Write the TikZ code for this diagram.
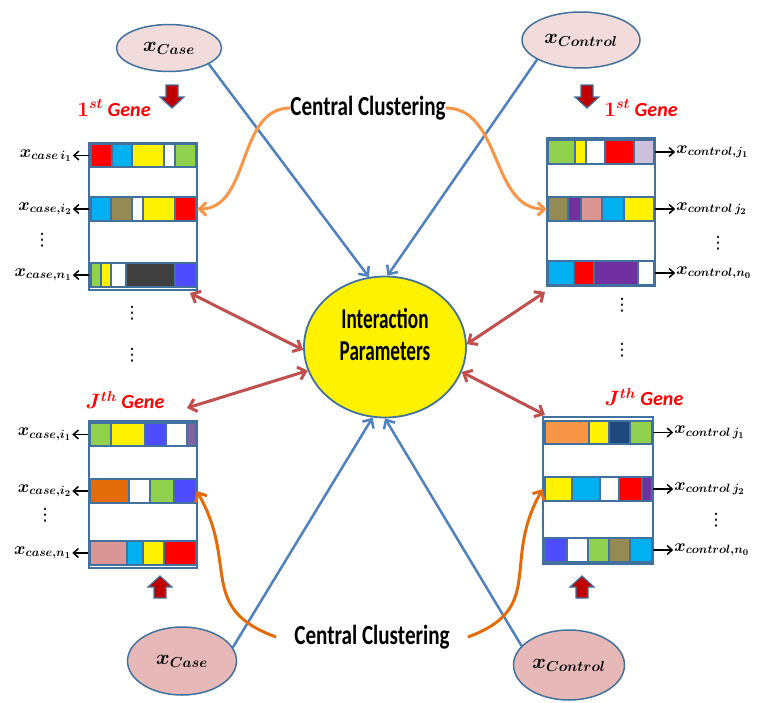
\documentclass[tikz,border=0pt]{standalone}
\usepackage{fontspec}
\setmainfont{Carlito}
\newfontfamily\dejavu{DejaVu Sans}
\usepackage{amsmath}
\usetikzlibrary{positioning,shapes.geometric,arrows.meta}

\definecolor{boxblue}{RGB}{65,113,156}
\definecolor{lineblue}{RGB}{79,129,189}
\definecolor{arrred}{RGB}{192,80,77}
\definecolor{lightorange}{RGB}{247,150,70}
\definecolor{darkorange}{RGB}{227,108,9}
\definecolor{palepink}{RGB}{242,220,219}
\definecolor{rosepink}{RGB}{230,185,184}
\definecolor{cyanc}{RGB}{0,176,240}
\definecolor{greenc}{RGB}{146,208,80}
\definecolor{olivec}{RGB}{148,138,84}
\definecolor{bluec}{RGB}{77,77,255}
\definecolor{purplec}{RGB}{112,48,160}
\definecolor{pinkc}{RGB}{217,150,148}
\definecolor{lavc}{RGB}{204,192,218}
\definecolor{navyc}{RGB}{31,73,125}
\definecolor{grayc}{RGB}{64,64,64}
\definecolor{mauvec}{RGB}{128,100,162}
\definecolor{darkredc}{RGB}{192,0,0}

\tikzset{
  >={Straight Barb[length=7pt,width=13pt]},
  sample/.style={ellipse, draw=boxblue, line width=1.5pt, inner sep=0pt, font=\fontsize{20}{24}\selectfont\boldmath},
  genebox/.style={draw=boxblue, line width=2pt, fill=white, inner sep=0pt, minimum width=108pt, minimum height=147pt},
  rowbox/.style={inner sep=0pt, minimum width=108pt, minimum height=24pt},
  cell/.style={draw=boxblue, line width=1.2pt},
  lab/.style={inner sep=1pt, font=\fontsize{18.5}{22}\selectfont\boldmath},
  dots/.style={inner sep=0pt, font=\dejavu\fontsize{17}{18}\selectfont},
  genetitle/.style={text=red, inner sep=0pt, font=\fontsize{20}{22}\selectfont\bfseries\itshape\boldmath},
  cluster/.style={inner sep=0pt, font=\fontsize{24}{28}\selectfont\bfseries},
  blueln/.style={draw=lineblue, line width=2.5pt, ->},
  redln/.style={draw=arrred, line width=3pt, <->},
  orangeln/.style={line width=3pt, ->},
  sidearr/.style={draw=black, line width=1.5pt, ->, >={Straight Barb[length=5pt,width=9pt]}},
  bigarr/.style={draw=boxblue, line width=1.2pt, fill=darkredc},
}

\begin{document}
\begin{tikzpicture}[x=1pt,y=-1pt]
  \useasboundingbox (0,0) rectangle (763,702);

  % the four samples and the centre
  \node[sample, fill=palepink, minimum width=105pt, minimum height=47pt] (caseT) at (169,48) {$x_{Case}$};
  \node[sample, fill=palepink, minimum width=118pt, minimum height=56pt] (ctrlT) at (581,40) {$x_{Control}$};
  \node[sample, fill=rosepink, minimum width=109pt, minimum height=68pt] (caseB) at (182,661) {$x_{Case}$};
  \node[sample, fill=rosepink, minimum width=111pt, minimum height=70pt] (ctrlB) at (569,665) {$x_{Control}$};

  \node[ellipse, draw=boxblue, line width=1.8pt, fill=yellow, minimum width=162pt, minimum height=141pt] (ip) at (385,347) {};
  \node[cluster, align=center] (ipt) at (385,334) {\scalebox{0.8}[1.2]{Interaction}\\[4pt]\scalebox{0.8}[1.2]{Parameters}};

  % blue lines into the centre
  \draw[blueln] (caseT.-22) -- (ip.103);
  \draw[blueln] (ctrlT.204) -- (ip.88);
  \draw[blueln] (caseB.15) -- (ip.260);
  \draw[blueln] (ctrlB.158) -- (ip.270);

  % gene boxes
  \node[genebox] (gTL) at (143,216.5) {};
  \node[genebox, minimum height=148pt] (gTR) at (601,212) {};
  \node[genebox] (gBL) at (142.5,494.5) {};
  \node[genebox, minimum width=110pt] (gBR) at (598,490.5) {};

  % 1st gene, case
  \filldraw[cell, fill=red] (91,144) rectangle (112,167); \filldraw[cell, fill=cyanc] (112,144) rectangle (132,167); \filldraw[cell, fill=yellow] (132,144) rectangle (164,167); \filldraw[cell, fill=white] (164,144) rectangle (175,167); \filldraw[cell, fill=greenc] (175,144) rectangle (196,167);
  \filldraw[cell, fill=cyanc] (91,197) rectangle (111,221); \filldraw[cell, fill=olivec] (111,197) rectangle (132,221); \filldraw[cell, fill=white] (132,197) rectangle (143,221); \filldraw[cell, fill=yellow] (143,197) rectangle (175,221); \filldraw[cell, fill=red] (175,197) rectangle (196,221);
  \filldraw[cell, fill=greenc] (91,263) rectangle (101,287); \filldraw[cell, fill=yellow] (101,263) rectangle (111,287); \filldraw[cell, fill=white] (111,263) rectangle (126,287); \filldraw[cell, fill=grayc] (126,263) rectangle (175,287); \filldraw[cell, fill=bluec] (175,263) rectangle (196,287);

  % 1st gene, control
  \filldraw[cell, fill=greenc] (548,140) rectangle (575,164); \filldraw[cell, fill=yellow] (575,140) rectangle (586,164); \filldraw[cell, fill=white] (586,140) rectangle (605,164); \filldraw[cell, fill=red] (605,140) rectangle (634,164); \filldraw[cell, fill=lavc] (634,140) rectangle (654,164);
  \filldraw[cell, fill=olivec] (548,197) rectangle (568,221); \filldraw[cell, fill=purplec] (568,197) rectangle (581,221); \filldraw[cell, fill=pinkc] (581,197) rectangle (602,221); \filldraw[cell, fill=cyanc] (602,197) rectangle (624,221); \filldraw[cell, fill=yellow] (624,197) rectangle (654,221);
  \filldraw[cell, fill=cyanc] (548,261) rectangle (574,285); \filldraw[cell, fill=red] (574,261) rectangle (594,285); \filldraw[cell, fill=purplec] (594,261) rectangle (638,285); \filldraw[cell, fill=white] (638,261) rectangle (654,285);

  % Jth gene, case
  \filldraw[cell, fill=greenc] (90,423) rectangle (111,446); \filldraw[cell, fill=yellow] (111,423) rectangle (145,446); \filldraw[cell, fill=bluec] (145,423) rectangle (166,446); \filldraw[cell, fill=white] (166,423) rectangle (187,446); \filldraw[cell, fill=mauvec] (187,423) rectangle (196,446);
  \filldraw[cell, fill=darkorange] (90,479) rectangle (129,503); \filldraw[cell, fill=white] (129,479) rectangle (150,503); \filldraw[cell, fill=greenc] (150,479) rectangle (174,503); \filldraw[cell, fill=bluec] (174,479) rectangle (196,503);
  \filldraw[cell, fill=pinkc] (90,541) rectangle (127,565); \filldraw[cell, fill=cyanc] (127,541) rectangle (143,565); \filldraw[cell, fill=yellow] (143,541) rectangle (164,565); \filldraw[cell, fill=red] (164,541) rectangle (196,565);

  % Jth gene, control
  \filldraw[cell, fill=lightorange] (545,421) rectangle (589,444); \filldraw[cell, fill=yellow] (589,421) rectangle (609,444); \filldraw[cell, fill=navyc] (609,421) rectangle (630,444); \filldraw[cell, fill=greenc] (630,421) rectangle (652,444);
  \filldraw[cell, fill=yellow] (545,477) rectangle (572,501); \filldraw[cell, fill=cyanc] (572,477) rectangle (600,501); \filldraw[cell, fill=white] (600,477) rectangle (619,501); \filldraw[cell, fill=red] (619,477) rectangle (642,501); \filldraw[cell, fill=purplec] (642,477) rectangle (652,501);
  \filldraw[cell, fill=bluec] (545,538) rectangle (567,562); \filldraw[cell, fill=white] (567,538) rectangle (588,562); \filldraw[cell, fill=greenc] (588,538) rectangle (609,562); \filldraw[cell, fill=olivec] (609,538) rectangle (630,562); \filldraw[cell, fill=cyanc] (630,538) rectangle (652,562);

  % rows
  \node[rowbox] (tlA) at (143,155.5) {};
  \node[rowbox] (tlB) at (143,209) {};
  \node[rowbox] (tlC) at (143,275) {};
  \node[rowbox] (trA) at (601,152) {};
  \node[rowbox] (trB) at (601,209) {};
  \node[rowbox] (trC) at (601,273) {};
  \node[rowbox] (blA) at (142.5,434.5) {};
  \node[rowbox] (blB) at (142.5,491) {};
  \node[rowbox] (blC) at (142.5,553) {};
  \node[rowbox, minimum width=110pt] (brA) at (598,432.5) {};
  \node[rowbox, minimum width=110pt] (brB) at (598,489) {};
  \node[rowbox, minimum width=110pt] (brC) at (598,550) {};

  % row labels
  \node[lab, left=16pt of tlA] (tlAx) {$x_{case\,i_1}$};
  \node[lab, left=16pt of tlB] (tlBx) {$x_{case,i_2}$};
  \node[lab, left=16pt of tlC] (tlCx) {$x_{case,n_1}$};
  \node[dots] (tlD) at (42,240) {⋮};
  \node[lab, right=20pt of trA] (trAx) {$x_{control,j_1}$};
  \node[lab, right=20pt of trB] (trBx) {$x_{control\,j_2}$};
  \node[lab, right=20pt of trC] (trCx) {$x_{control,n_0}$};
  \node[dots] (trD) at (718,243) {⋮};
  \node[lab, left=16pt of blA] (blAx) {$x_{case,i_1}$};
  \node[lab, left=16pt of blB] (blBx) {$x_{case,i_2}$};
  \node[lab, left=16pt of blC] (blCx) {$x_{case,n_1}$};
  \node[dots] (blD) at (45,515) {⋮};
  \node[lab, right=20pt of brA] (brAx) {$x_{control\,j_1}$};
  \node[lab, right=20pt of brB] (brBx) {$x_{control\,j_2}$};
  \node[lab, right=20pt of brC] (brCx) {$x_{control,n_0}$};
  \node[dots] (brD) at (716,520) {⋮};

  \draw[sidearr] (tlA.west) -- (tlAx);
  \draw[sidearr] (tlB.west) -- (tlBx);
  \draw[sidearr] (tlC.west) -- (tlCx);
  \draw[sidearr] (trA.east) -- (trAx);
  \draw[sidearr] (trB.east) -- (trBx);
  \draw[sidearr] (trC.east) -- (trCx);
  \draw[sidearr] (blA.west) -- (blAx);
  \draw[sidearr] (blB.west) -- (blBx);
  \draw[sidearr] (blC.west) -- (blCx);
  \draw[sidearr] (brA.east) -- (brAx);
  \draw[sidearr] (brB.east) -- (brBx);
  \draw[sidearr] (brC.east) -- (brCx);

  % dots between genes
  \node[dots] (midL1) at (132,313) {⋮};
  \node[dots] (midL2) at (132,355) {⋮};
  \node[dots] (midR1) at (622,305) {⋮};
  \node[dots] (midR2) at (622,350) {⋮};

  % gene titles
  \node[genetitle] (tTL) at (114,108) {$1^{st}$ Gene};
  \node[genetitle] (tTR) at (641,108) {$1^{st}$ Gene};
  \node[genetitle] (tBL) at (125,400) {$J^{th}$ Gene};
  \node[genetitle] (tBR) at (644,397) {$J^{th}$ Gene};

  % block arrows
  \filldraw[bigarr] (166,85) -- ++(12,0) -- ++(0,12) -- ++(6,0) -- ++(-12,11) -- ++(-12,-11) -- ++(6,0) -- cycle;
  \filldraw[bigarr] (581,85) -- ++(12,0) -- ++(0,12) -- ++(6,0) -- ++(-12,11) -- ++(-12,-11) -- ++(6,0) -- cycle;
  \filldraw[bigarr] (154,598) -- ++(12,0) -- ++(0,-11) -- ++(6,0) -- ++(-12,-11) -- ++(-12,11) -- ++(6,0) -- cycle;
  \filldraw[bigarr] (576,598) -- ++(12,0) -- ++(0,-11) -- ++(6,0) -- ++(-12,-11) -- ++(-12,11) -- ++(6,0) -- cycle;

  % red double arrows
  \coordinate (rTL) at (190,293);
  \coordinate (rBL) at (187,408);
  \coordinate (rTR) at (545,292);
  \coordinate (rBR) at (545,415);
  \draw[redln] (rTL) -- (ip.182);
  \draw[redln] (rBL) -- (ip.197);
  \draw[redln] (rTR) -- (ip.2);
  \draw[redln] (rBR) -- (ip.342);

  % central clustering
  \node[cluster] (cc1) at (368,108) {\scalebox{0.88}[1.15]{Central Clustering}};
  \node[cluster] (cc2) at (372,637) {\scalebox{0.88}[1.15]{Central Clustering}};
  \draw[orangeln, lightorange] (cc1.west) to[out=180,in=0] (tlB.east);
  \draw[orangeln, lightorange] (cc1.east) to[out=0,in=180] (trB.west);
  \draw[orangeln, darkorange] ([xshift=-18pt]cc2.west) to[out=160,in=-60,looseness=1.3] (blB.east);
  \draw[orangeln, darkorange] ([xshift=18pt]cc2.east) to[out=20,in=-120,looseness=1.3] (brB.west);
\end{tikzpicture}
\end{document}
